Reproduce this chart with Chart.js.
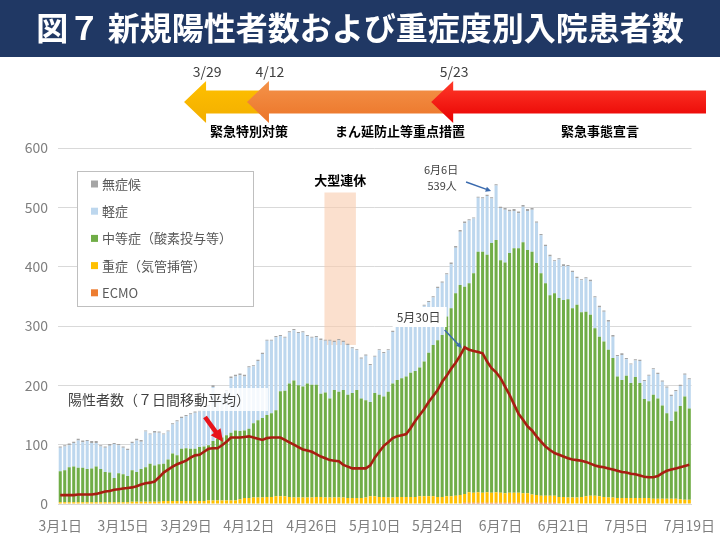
<!DOCTYPE html>
<html>
<head>
<meta charset="utf-8">
<script src="https://cdn.jsdelivr.net/npm/chart.js@4.4.0/dist/chart.umd.min.js"></script>
<style>
  body { margin: 0; background: #fff; }
  #wrap { width: 720px; height: 540px; }
</style>
</head>
<body>
<div id="wrap"><canvas id="chart" width="720" height="540"></canvas></div>
<script>
// 2021/3/1 - 7/19, daily
const categories = [];
for (let i = 0; i < 141; i++) {
  const d = new Date(2021, 2, 1 + i);
  categories.push(`${d.getMonth() + 1}月${d.getDate()}日`);
}
const tickLabels = ["3月1日", "3月15日", "3月29日", "4月12日", "4月26日", "5月10日",
  "5月24日", "6月7日", "6月21日", "7月5日", "7月19日"];
const yTicks = [0, 100, 200, 300, 400, 500, 600];

const ecmo = [
  0,0,0,0,0,0,0,0,0,0, 0,0,0,0,0,0,0,0,0,0, 0,0,0,0,0,0,0,0,0,0, 0,0,0,0,0,0,0,0,0,0,
  0,1,1,1,1,1,1,1,1,1, 1,1,1,1,1,1,1,1,1,1, 1,1,1,1,1,1,1,1,1,1, 1,1,1,1,1,1,1,1,1,1,
  1,1,1,1,1,1,1,1,1,1, 2,2,2,2,2,2,2,2,2,2, 2,2,2,2,2,2,2,2,2,2, 2,1,1,1,1,1,1,1,1,1,
  1,1,1,1,1,1,1,1,1,1, 1,1,1,1,1,1,1,1,1,1, 1];
const severe = [
  3,3,3,3,3,3,3,3,3,3, 3,3,3,3,3,3,4,4,4,4, 4,4,4,5,5,5,5,5,5,5, 5,5,5,6,6,6,6,6,6,6,
  8,9,9,10,10,10,11,11,12,12, 12,11,10,10,10,10,10,11,11,10, 10,10,10,10,9,9,9,9,10,12,
  12,11,11,10,10,11,11,11,11,11, 12,12,12,12,11,11,12,12,13,14, 15,18,17,18,17,18,17,18,17,16,
  17,17,17,16,16,14,13,12,12,12, 12,11,11,10,10,10,11,12,13,13, 12,11,10,10,9,9,9,9,9,9,
  9,9,8,8,8,8,8,8,7,6, 6];
const moderate = [
  52,54,59,60,58,58,56,57,60,56, 51,50,41,49,47,44,53,50,55,58, 64,61,63,63,70,80,77,88,89,88,
  88,91,92,93,100,104,106,110,114,118, 115,114,117,125,130,134,138,141,145,177,
  178,191,197,189,187,192,190,189,174,177, 167,181,178,181,174,177,182,168,164,159,
  174,172,169,178,192,197,200,203,209,212, 217,227,242,255,264,273,303,317,341,354,
  349,352,370,405,406,400,421,425,392,389, 404,412,412,423,410,409,391,375,358,338,
  341,335,332,334,319,325,311,311,305,282, 269,262,249,235,205,199,206,194,204,194,
  167,163,175,169,157,144,131,147,157,174, 154];
const mild = [
  40,40,37,40,46,43,47,43,40,38, 41,45,57,47,45,44,46,53,46,60, 49,55,53,49,47,49,57,52,54,58,
  61,60,62,66,91,68,71,74,92,91, 94,91,103,96,100,108,125,122,123,93, 89,86,85,88,91,80,79,80,90,87,
  97,81,87,81,84,75,67,67,75,62, 61,75,73,70,87,92,94,95,95,96, 98,94,85,80,88,88,71,74,77,90,
  107,106,92,91,90,99,75,92,88,89, 70,63,59,60,66,71,68,64,63,65, 54,65,57,56,61,45,54,56,56,52,
  49,50,47,36,34,42,28,31,28,37, 30,43,43,41,40,43,42,34,34,37, 49];
const asymptomatic = [
  2,2,3,2,3,3,2,3,3,2, 2,3,2,2,2,2,2,3,3,2, 2,3,2,2,2,2,2,2,2,2, 2,2,2,2,3,2,2,2,3,3,
  3,3,2,2,2,2,2,2,2,2, 2,2,2,2,2,2,2,2,3,2, 2,2,2,2,2,2,2,2,2,2, 2,2,2,2,2,2,2,2,2,2,
  2,2,2,2,2,2,2,3,3,3, 3,2,2,2,2,2,2,2,2,3, 3,3,3,3,3,3,2,2,2,3, 2,2,3,2,2,2,2,2,3,2,
  3,2,3,3,2,3,2,2,2,2, 2,2,2,2,2,2,2,2,2,2, 2];
const movingAvg = [
  15,15,15,15,16,16,16,16,17,19, 21,22,24,25,26,27,28,30,33,35, 36,38,45,53,58,63,67,70,73,78,
  82,83,88,93,94,94,99,105,112,112, 112,113,114,112,110,108,111,112,112,112,
  108,104,100,96,92,90,88,84,80,77, 74,73,72,66,63,60,60,60,60,65,
  78,88,98,104,111,114,116,118,128,140, 150,160,172,182,192,206,216,228,238,250,
  264,260,258,256,254,240,229,222,212,198, 184,168,152,142,131,124,114,105,97,91,
  86,83,80,77,75,74,73,71,68,65, 63,62,60,58,56,54,53,51,50,48,
  46,45,45,47,52,56,58,60,62,64, 66];

const seriesNames = ["無症候", "軽症", "中等症（酸素投与等）", "重症（気管挿管）", "ECMO"];
const seriesColors = ["#A5A5A5", "#BDD7EE", "#70AD47", "#FFC000", "#ED7D31"];

// measures (arrows at the top): start day index, label
const measures = [
  { day: 28, date: "3/29", top: "#FFC000", bottom: "#F2AE00" },
  { day: 42, date: "4/12", top: "#F4934A", bottom: "#EB7428" },
  { day: 83, date: "5/23", top: "#FF3B2B", bottom: "#E80000" },
];
const measureNames = [
  { text: "緊急特別対策", x: 249 },
  { text: "まん延防止等重点措置", x: 400 },
  { text: "緊急事態宣言", x: 600 },
];

const FONT = '"Noto Sans CJK JP", "Noto Sans", sans-serif';
Chart.defaults.font.family = FONT;

function bigArrow(ctx, tip, right, cy, c1, c2) {
  const g = ctx.createLinearGradient(0, cy - 21, 0, cy + 21);
  g.addColorStop(0, c1);
  g.addColorStop(1, c2);
  ctx.fillStyle = g;
  ctx.beginPath();
  ctx.moveTo(tip, cy);
  ctx.lineTo(tip + 22, cy - 21);
  ctx.lineTo(tip + 22, cy - 11.5);
  ctx.lineTo(right, cy - 11.5);
  ctx.lineTo(right, cy + 11.5);
  ctx.lineTo(tip + 22, cy + 11.5);
  ctx.lineTo(tip + 22, cy + 21);
  ctx.closePath();
  ctx.fill();
}

function thinArrow(ctx, x1, y1, x2, y2, color, width, head) {
  const a = Math.atan2(y2 - y1, x2 - x1);
  ctx.strokeStyle = color;
  ctx.fillStyle = color;
  ctx.lineWidth = width;
  ctx.beginPath();
  ctx.moveTo(x1, y1);
  ctx.lineTo(x2 - Math.cos(a) * head * 0.8, y2 - Math.sin(a) * head * 0.8);
  ctx.stroke();
  ctx.beginPath();
  ctx.moveTo(x2, y2);
  ctx.lineTo(x2 - head * Math.cos(a - 0.45), y2 - head * Math.sin(a - 0.45));
  ctx.lineTo(x2 - head * Math.cos(a + 0.45), y2 - head * Math.sin(a + 0.45));
  ctx.closePath();
  ctx.fill();
}

const deco = {
  id: "deco",
  beforeDraw(chart) {
    const { ctx } = chart;
    const x = chart.scales.x;
    ctx.save();
    ctx.fillStyle = "#fff";
    ctx.fillRect(0, 0, 720, 540);
    // banner
    ctx.fillStyle = "#203864";
    ctx.fillRect(0, 0, 720, 57);
    ctx.fillStyle = "#fff";
    ctx.font = "bold 32px " + FONT;
    ctx.textAlign = "center";
    ctx.textBaseline = "middle";
    ctx.fillText("図７ 新規陽性者数および重症度別入院患者数", 360, 28);

    // measure arrows
    const rights = [268, 446, 706];
    measures.forEach((m, i) => {
      const tip = x.getPixelForValue(m.day) - 2;
      bigArrow(ctx, tip, rights[i], 102, m.top, m.bottom);
      ctx.fillStyle = "#404040";
      ctx.font = "14px " + FONT;
      ctx.fillText(m.date, tip + 23, 72);
    });
    ctx.fillStyle = "#000";
    ctx.font = "bold 13px " + FONT;
    measureNames.forEach((n) => ctx.fillText(n.text, n.x, 131));
    ctx.restore();
  },
  beforeDatasetsDraw(chart) {
    const { ctx } = chart;
    const x = chart.scales.x, y = chart.scales.y;
    ctx.save();
    // 大型連休 band (4/29 - 5/5)
    const x1 = x.getPixelForValue(58.8), x2 = x.getPixelForValue(65.8);
    ctx.fillStyle = "rgba(248, 203, 173, 0.6)";
    ctx.fillRect(x1, y.getPixelForValue(525), x2 - x1, y.getPixelForValue(268) - y.getPixelForValue(525));
    ctx.fillStyle = "#000";
    ctx.font = "bold 13px " + FONT;
    ctx.textAlign = "center";
    ctx.textBaseline = "middle";
    ctx.fillText("大型連休", (x1 + x2) / 2, y.getPixelForValue(546));
    ctx.restore();
  },
  afterDatasetsDraw(chart) {
    const { ctx } = chart;
    const x = chart.scales.x;
    ctx.save();
    ctx.textAlign = "center";
    ctx.textBaseline = "middle";

    // peak annotation 6/6
    const px = x.getPixelForValue(97);
    ctx.fillStyle = "#404040";
    ctx.font = "11px " + FONT;
    ctx.fillText("6月6日", px - 55, 170);
    ctx.fillText("539人", px - 54, 186);
    thinArrow(ctx, px - 30, 182, px - 5, 191, "#3A6AAE", 1.5, 6);

    // 5/30 moving-average peak
    const mx = x.getPixelForValue(90);
    ctx.fillStyle = "#fff";
    ctx.fillRect(mx - 72, 307, 54, 20);
    ctx.fillStyle = "#404040";
    ctx.font = "12px " + FONT;
    ctx.fillText("5月30日", mx - 46, 317);
    thinArrow(ctx, mx - 20, 330, mx - 3, 348, "#3A6AAE", 1.5, 6);

    // moving-average label
    ctx.fillStyle = "rgba(255,255,255,0.85)";
    ctx.fillRect(64, 388, 204, 23);
    ctx.fillStyle = "#404040";
    ctx.font = "14px " + FONT;
    ctx.textAlign = "left";
    ctx.fillText("陽性者数（７日間移動平均）", 68, 400);
    thinArrow(ctx, 205, 417, 223, 442, "#E8141B", 4.5, 14);

    // legend
    ctx.fillStyle = "#fff";
    ctx.fillRect(77.5, 171.5, 176, 135);
    ctx.strokeStyle = "#BFBFBF";
    ctx.lineWidth = 1;
    ctx.strokeRect(77.5, 171.5, 176, 135);
    ctx.font = "13px " + FONT;
    seriesNames.forEach((n, i) => {
      const yy = 184 + i * 27.2;
      ctx.fillStyle = seriesColors[i];
      ctx.fillRect(91, yy - 3.5, 7, 7);
      ctx.fillStyle = "#595959";
      ctx.fillText(n, 102, yy);
    });
    ctx.restore();
  },
};

const barCommon = { type: "bar", stack: "p", order: 2, borderWidth: 0,
  categoryPercentage: 1, barPercentage: 0.68 };

new Chart(document.getElementById("chart"), {
  data: {
    labels: categories,
    datasets: [
      { ...barCommon, label: seriesNames[4], data: ecmo, backgroundColor: seriesColors[4] },
      { ...barCommon, label: seriesNames[3], data: severe, backgroundColor: seriesColors[3] },
      { ...barCommon, label: seriesNames[2], data: moderate, backgroundColor: seriesColors[2] },
      { ...barCommon, label: seriesNames[1], data: mild, backgroundColor: seriesColors[1] },
      { ...barCommon, label: seriesNames[0], data: asymptomatic, backgroundColor: seriesColors[0] },
      {
        type: "line", label: "陽性者数（７日間移動平均）", data: movingAvg, stack: "avg", order: 0,
        borderColor: "#A81E12", borderWidth: 2.6, pointRadius: 0, tension: 0,
      },
    ],
  },
  options: {
    responsive: false,
    animation: false,
    devicePixelRatio: 1,
    layout: { padding: { top: 148, left: 6, right: 16, bottom: 4 } },
    plugins: { legend: { display: false }, tooltip: { enabled: false } },
    scales: {
      x: {
        stacked: true,
        grid: { display: false },
        border: { color: "#D9D9D9" },
        afterFit: (s) => { s.height = 32; },
        ticks: {
          autoSkip: false, maxRotation: 0, color: "#7F7F7F", font: { size: 14 }, padding: 5,
          callback: (v, i) => (tickLabels.includes(categories[i]) ? categories[i] : null),
        },
      },
      y: {
        stacked: true,
        min: 0,
        max: 600,
        afterFit: (s) => { s.width = 52; },
        afterBuildTicks: (s) => { s.ticks = yTicks.map((v) => ({ value: v })); },
        grid: { color: "#D9D9D9", drawTicks: false },
        border: { display: false },
        ticks: { color: "#7F7F7F", font: { size: 14 }, padding: 10 },
      },
    },
  },
  plugins: [deco],
});
</script>
</body>
</html>
